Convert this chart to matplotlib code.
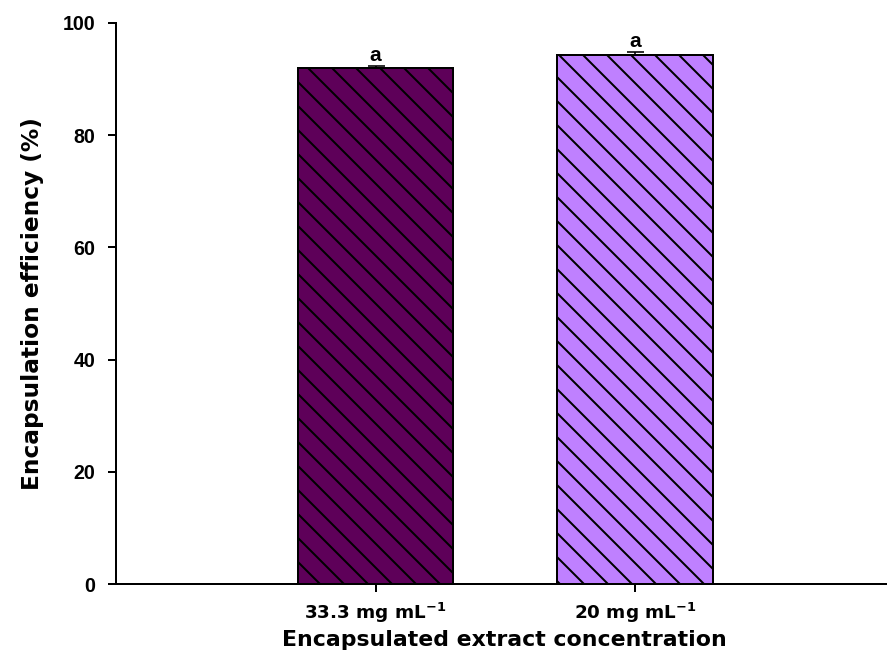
import matplotlib
matplotlib.use("Agg")
import matplotlib.pyplot as plt

categories = ["33.3 mg mL$^{\\mathbf{-1}}$", "20 mg mL$^{\\mathbf{-1}}$"]
values = [91.9, 94.3]
errors = [0.5, 0.6]
letters = ["a", "a"]
colors = ["#5E0059", "#BF80FF"]
yticks = [0, 20, 40, 60, 80, 100]

plt.rcParams["font.family"] = ["DejaVu Sans"]
plt.rcParams["font.weight"] = "bold"
plt.rcParams["mathtext.fontset"] = "dejavusans"
plt.rcParams["hatch.linewidth"] = 1.0

DPI = 144
fig = plt.figure(figsize=(887 / DPI, 652 / DPI), dpi=DPI)
ax = fig.add_axes([116 / 887, 68 / 652, (887 - 116) / 887, 561 / 652])

x = [1, 2]
ax.bar(x, values, width=0.6, color=colors, edgecolor="black", linewidth=1.0,
       hatch="\\\\", zorder=2)
ax.errorbar(x, values, yerr=[[0] * len(errors), errors], fmt="none", ecolor="black",
            elinewidth=0.8, capsize=4.25, capthick=0.8, zorder=3)
for xi, v, e, t in zip(x, values, errors, letters):
    ax.annotate(t, (xi, v + e), xytext=(0, 0.5), textcoords="offset points",
                ha="center", va="bottom", fontsize=10.5, fontweight="bold",
                family=["Liberation Sans"])

ax.set_xlim(0, 2.97)
ax.set_ylim(0, 100)
ax.set_yticks(yticks)
ax.set_xticks(x)
ax.set_xticklabels(categories)
ax.spines["top"].set_visible(False)
ax.spines["right"].set_visible(False)
for s in ("left", "bottom"):
    ax.spines[s].set_linewidth(1.0)
ax.tick_params(axis="both", direction="out", length=4, width=1.0)
ax.tick_params(axis="y", pad=6.5, labelsize=9.8)
ax.tick_params(axis="x", pad=4.5, labelsize=9.2)
for lab in ax.get_yticklabels():
    lab.set_family(["Liberation Sans"])
    lab.set_weight("bold")

ax.set_ylabel("Encapsulation efficiency (%)", fontsize=11.6, fontweight="bold", labelpad=9)
ax.set_xlabel("Encapsulated extract concentration", fontsize=11, fontweight="bold")
ax.xaxis.label.set_va("baseline")
ax.xaxis.set_label_coords(0.504, -(646.5 - 584) / 561)

fig.savefig("out.png", dpi=DPI)
